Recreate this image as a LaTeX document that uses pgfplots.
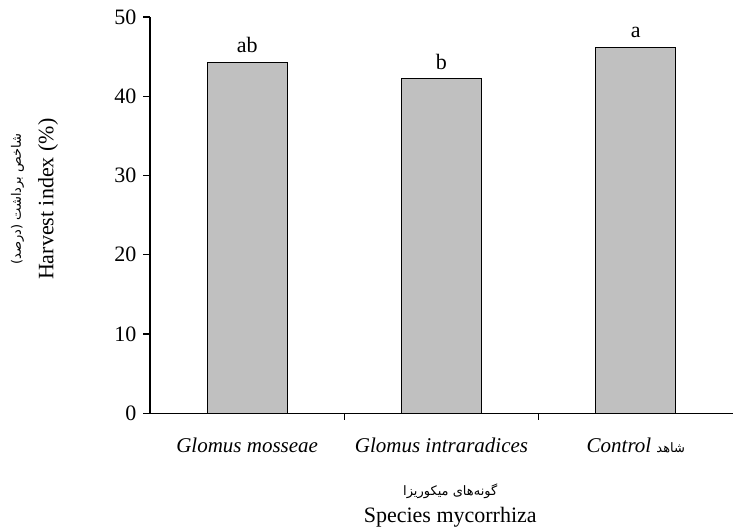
\documentclass[border=0pt]{standalone}
\usepackage{pgfplots}
\pgfplotsset{compat=1.18}
\usepackage{fontspec}
\setmainfont{Liberation Serif}
\newfontfamily\arabicfont[Script=Arabic]{DejaVu Sans}
\TeXXeTstate=1
\definecolor{bargray}{RGB}{192,192,192}

\begin{document}
\begin{tikzpicture}
\useasboundingbox (-75pt,-58.85pt) rectangle (292pt,206.65pt);
\begin{axis}[
    at={(0,0)}, anchor=south west,
    scale only axis=true,
    width=291.5pt, height=198.15pt,
    xmin=-0.5, xmax=2.5,
    ymin=0, ymax=50,
    axis x line=bottom, axis y line=left,
    axis line style={-, black, line width=0.6pt},
    xtick={0.5,1.5},
    xticklabels={},
    extra x ticks={0,1,2},
    extra x tick labels={\textit{Glomus mosseae}, \textit{Glomus intraradices}, \textit{Control} {\arabicfont\fontsize{6.5}{8}\selectfont\beginR شاهد\endR}},
    extra x tick style={major tick length=0pt,
        xticklabel style={font=\fontsize{10.5}{12}\selectfont, yshift=-9pt}},
    ytick={0,10,...,50},
    tick align=outside,
    major tick length=3.25pt,
    tick style={black, line width=0.6pt},
    yticklabel style={font=\fontsize{11}{13}\selectfont},
    /pgf/number format/assume math mode=true,
    xlabel={{\arabicfont\fontsize{6.5}{8}\selectfont\beginR گونه‌های میکوریزا\endR}\\[0.3pt]Species mycorrhiza},
    xlabel style={align=center, font=\fontsize{11}{13.2}\selectfont,
        at={(axis description cs:0.515,-0.232)}, anchor=center},
    ylabel={{\arabicfont\fontsize{6.5}{8}\selectfont\beginR شاخص برداشت (درصد)\endR}\\[3pt]Harvest index (\%)},
    ylabel style={align=center, font=\fontsize{11}{13.2}\selectfont,
        at={(axis description cs:-0.198,0.54)}, anchor=center},
    nodes near coords,
    point meta=explicit symbolic,
    every node near coord/.append style={font=\fontsize{11}{13}\selectfont, yshift=1pt},
    clip=false,
]
\addplot[ybar, bar width=0.41, fill=bargray, draw=black, line width=0.5pt]
  coordinates {(0,44.3) [ab] (1,42.2) [b] (2,46.2) [a]};
\end{axis}
\end{tikzpicture}
\end{document}
